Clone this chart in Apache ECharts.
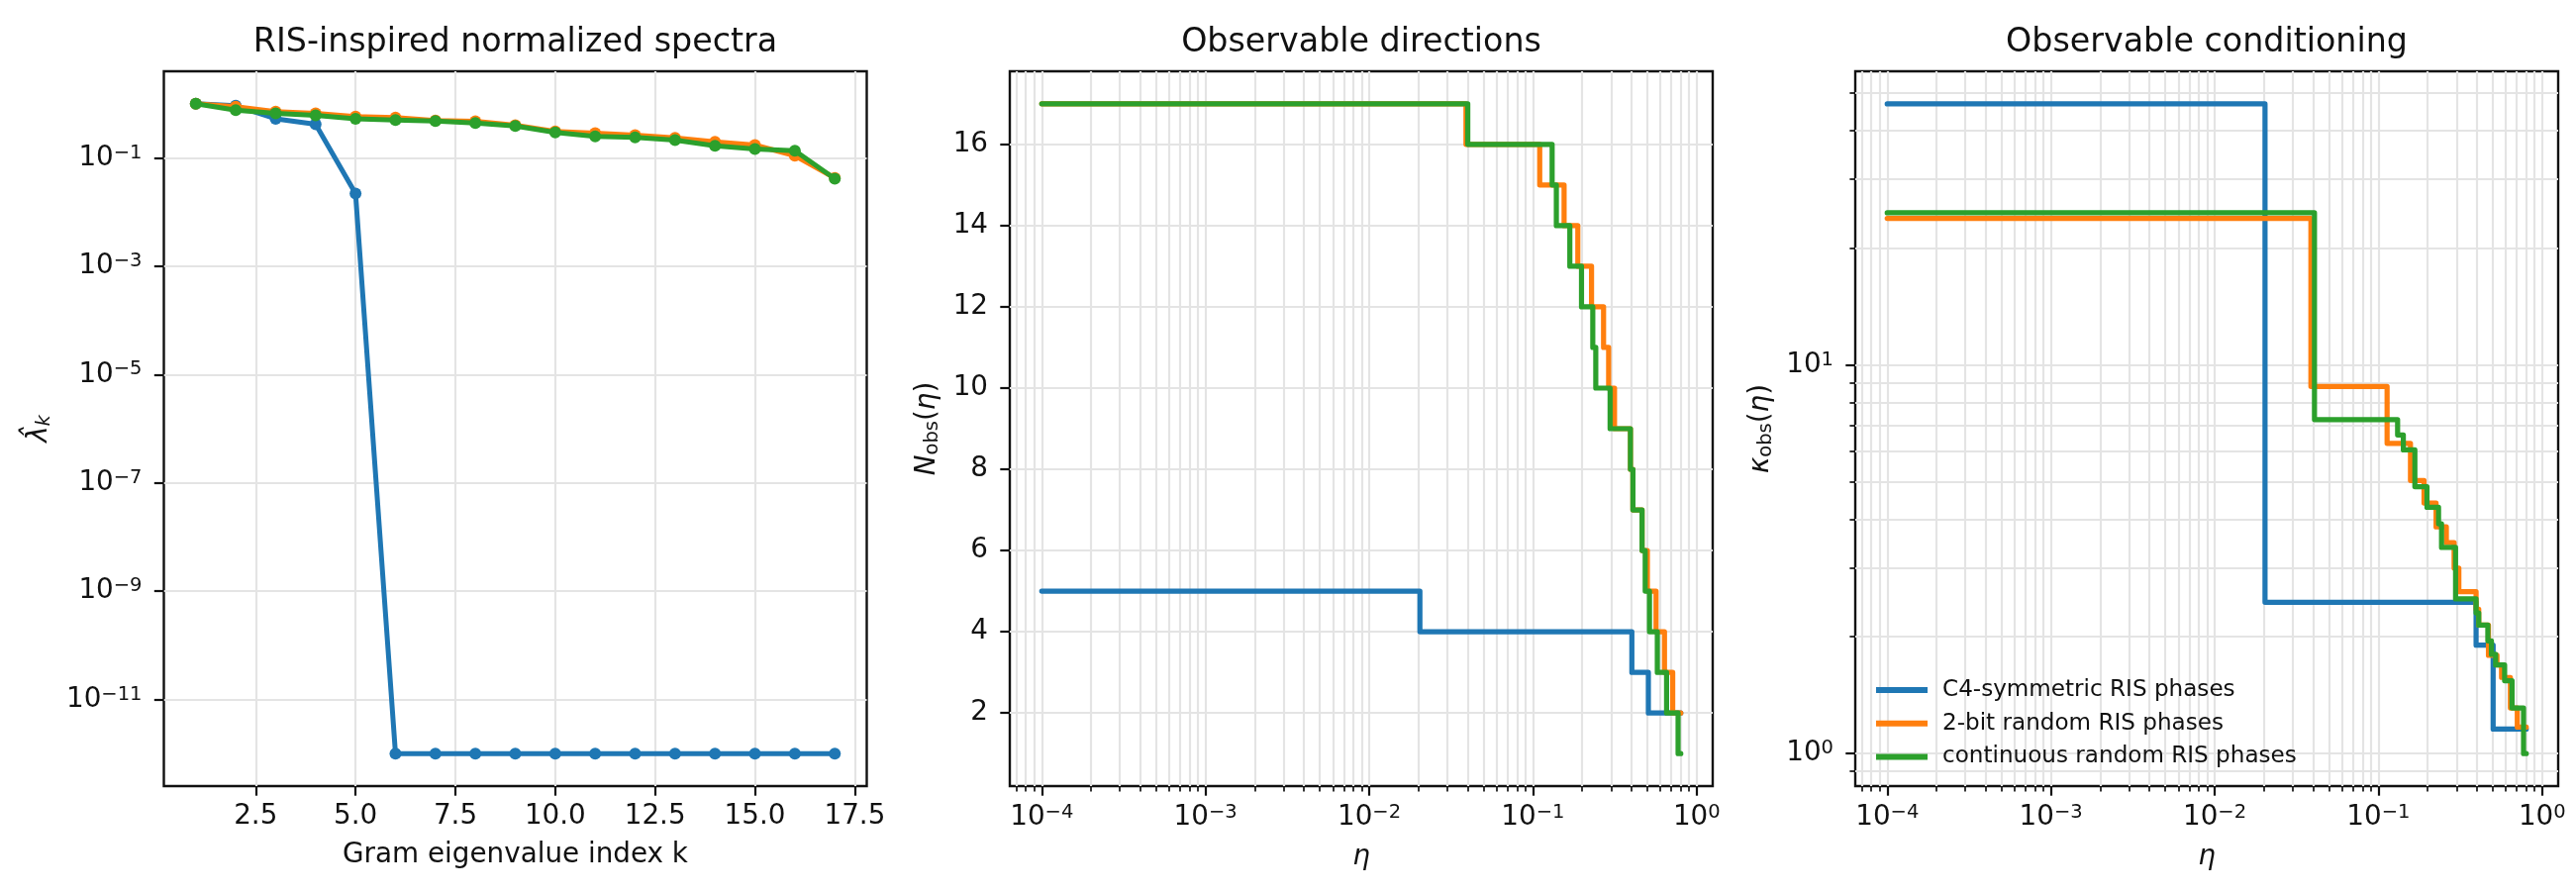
<!DOCTYPE html>
<html>
<head>
<meta charset="utf-8">
<script src="https://cdn.jsdelivr.net/npm/echarts@6/dist/echarts.min.js"></script>
<style>
html,body{margin:0;padding:0;background:#fff;}
#chart{width:2602px;height:903px;}
</style>
</head>
<body>
<div id="chart"></div>
<script>
// ---------------- data ----------------
const seriesNames = ['C4-symmetric RIS phases', '2-bit random RIS phases', 'continuous random RIS phases'];
const seriesColors = ['#1f77b4', '#ff7f0e', '#2ca02c'];

// Left panel: normalized Gram spectra
const kIndex = [1,2,3,4,5,6,7,8,9,10,11,12,13,14,15,16,17];
const specC4 = [1.0, 0.92, 0.53, 0.42, 0.022, 1e-12, 1e-12, 1e-12, 1e-12, 1e-12, 1e-12, 1e-12, 1e-12, 1e-12, 1e-12, 1e-12, 1e-12];
const spec2bit = [1.0, 0.88, 0.715, 0.665, 0.578, 0.555, 0.49, 0.475, 0.40, 0.31, 0.286, 0.263, 0.235, 0.199, 0.173, 0.110, 0.0426];
const specCont = [1.0, 0.764, 0.665, 0.61, 0.53, 0.50, 0.48, 0.44, 0.39, 0.295, 0.249, 0.239, 0.213, 0.168, 0.146, 0.136, 0.0413];

// Middle panel: N_obs(eta) step breakpoints (eta where value starts, value)
const etaNC4 = [1e-4, 0.0204, 0.402, 0.507, 0.8];
const nObsC4 = [5, 4, 3, 2, 2];
const etaN2bit = [1e-4, 0.039, 0.110, 0.155, 0.188, 0.228, 0.270, 0.290, 0.315, 0.394, 0.408, 0.464, 0.50, 0.565, 0.636, 0.714, 0.8];
const nObs2bit = [17, 16, 15, 14, 13, 12, 11, 10, 9, 8, 7, 6, 5, 4, 3, 2, 2];
const etaNCont = [1e-4, 0.040, 0.131, 0.139, 0.168, 0.198, 0.232, 0.242, 0.296, 0.394, 0.408, 0.464, 0.485, 0.515, 0.575, 0.655, 0.77, 0.8];
const nObsCont = [17, 16, 15, 14, 13, 12, 11, 10, 9, 8, 7, 6, 5, 4, 3, 2, 1, 1];

// Right panel: kappa_obs(eta) step breakpoints
const etaKC4 = [1e-4, 0.0203, 0.395, 0.502, 0.8];
const kapC4 = [46.9, 2.45, 1.90, 1.156, 1.156];
const etaK2bit = [1e-4, 0.0387, 0.113, 0.157, 0.19, 0.225, 0.26, 0.29, 0.31, 0.395, 0.41, 0.47, 0.53, 0.565, 0.64, 0.705, 0.8];
const kap2bit = [23.8, 8.8, 6.28, 5.04, 4.41, 3.83, 3.49, 3.0, 2.61, 2.35, 2.14, 1.79, 1.69, 1.57, 1.31, 1.17, 1.17];
const etaKCont = [1e-4, 0.0407, 0.131, 0.142, 0.167, 0.198, 0.233, 0.243, 0.296, 0.395, 0.41, 0.466, 0.49, 0.52, 0.59, 0.655, 0.77, 0.8];
const kapCont = [24.6, 7.23, 6.6, 6.04, 4.86, 4.30, 3.9, 3.39, 2.50, 2.3, 2.14, 1.95, 1.8, 1.69, 1.54, 1.31, 1.0, 1.0];

// Tick labels
const leftXTicks = [2.5, 5.0, 7.5, 10.0, 12.5, 15.0, 17.5];
const leftYTickExp = [-11, -9, -7, -5, -3, -1];
const midYTicks = [2, 4, 6, 8, 10, 12, 14, 16];
const etaTickExp = [-4, -3, -2, -1, 0];
const kapTickExp = [0, 1];

// ---------------- helpers ----------------
const FONT = 'DejaVu Sans';
const TXT = '#111';
const SPINE = '#111';
const GRIDC = '#e4e4e4';
const lg = Math.log10;

function minorLogs(lo, hi) {
  const out = [];
  for (let d = Math.floor(lo) - 1; d <= Math.ceil(hi); d++) {
    for (let m = 2; m <= 9; m++) {
      const v = d + lg(m);
      if (v >= lo && v <= hi) out.push(v);
    }
  }
  return out;
}
const supRich = {
  b: {fontSize: 27.8, lineHeight: 30, fontFamily: FONT, color: TXT},
  s: {fontSize: 19.5, lineHeight: 14, verticalAlign: 'top', fontFamily: FONT, color: TXT}
};
function powLabel(v) {
  const e = Math.round(v);
  const t = e < 0 ? '\u2212' + (-e) : String(e);
  return '{b|10}{s|' + t + '}';
}
const nameRich = {
  i: {fontSize: 27.8, lineHeight: 30, fontStyle: 'italic', fontFamily: FONT, color: TXT},
  r: {fontSize: 27.8, lineHeight: 30, fontFamily: FONT, color: TXT},
  sub: {fontSize: 19.5, lineHeight: 14, verticalAlign: 'bottom', fontFamily: FONT, color: TXT},
  subi: {fontSize: 19.5, lineHeight: 14, verticalAlign: 'bottom', fontStyle: 'italic', fontFamily: FONT, color: TXT}
};

const gridW = 710, gridH = 722, gridTop = 72;
const gridLefts = [165.5, 1020, 1874];

const etaMin = -4.195, etaMax = 0.098;
const leftYMin = -12.6, leftYMax = 0.6;
const kapMin = -0.0836, kapMax = 1.755;

function mainAxisCommon(extra) {
  return Object.assign({
    type: 'value',
    axisLine: {show: false, onZero: false},
    axisTick: {show: true, length: 9.7, lineStyle: {color: SPINE, width: 2.2}},
    splitLine: {show: true, lineStyle: {color: GRIDC, width: 2.2}},
    minorTick: {show: false},
    nameTextStyle: {fontFamily: FONT, fontSize: 27.8, color: TXT, lineHeight: 30}
  }, extra);
}
function minorAxis(extra) {
  return Object.assign({
    type: 'value',
    axisLine: {show: false, onZero: false},
    axisTick: {show: true, length: 5.6, lineStyle: {color: SPINE, width: 1.7}},
    axisLabel: {show: false},
    splitLine: {show: true, lineStyle: {color: GRIDC, width: 2.2}}
  }, extra);
}

function stepData(xs, ys, tx, ty) {
  return xs.map((x, i) => [tx(x), ty(ys[i])]);
}
const id = v => v;

const lineCommon = (i) => ({
  name: seriesNames[i],
  type: 'line',
  color: seriesColors[i],
  lineStyle: {width: 5.2, color: seriesColors[i], join: 'round', cap: 'round'},
  itemStyle: {color: seriesColors[i]},
  emphasis: {disabled: true},
  z: 2 + i
});

const option = {
  animation: false,
  backgroundColor: '#fff',
  textStyle: {fontFamily: FONT},
  graphic: [
    {type: 'text', x: gridLefts[0] + gridW / 2, y: 43, style: {text: 'RIS-inspired normalized spectra', font: '33.3px "DejaVu Sans"', fill: TXT, align: 'center', verticalAlign: 'middle'}},
    {type: 'text', x: gridLefts[1] + gridW / 2, y: 43, style: {text: 'Observable directions', font: '33.3px "DejaVu Sans"', fill: TXT, align: 'center', verticalAlign: 'middle'}},
    {type: 'text', x: gridLefts[2] + gridW / 2, y: 43, style: {text: 'Observable conditioning', font: '33.3px "DejaVu Sans"', fill: TXT, align: 'center', verticalAlign: 'middle'}}
  ],
  legend: {
    show: true,
    data: seriesNames,
    orient: 'vertical',
    left: 1890,
    top: 679,
    icon: 'rect',
    itemWidth: 52,
    itemHeight: 6,
    itemGap: 7.7,
    selectedMode: false,
    formatter: n => '{t|' + n + '}',
    textStyle: {fontFamily: FONT, fontSize: 23.1, color: TXT, lineHeight: 26,
      rich: {t: {fontFamily: FONT, fontSize: 23.1, color: TXT, lineHeight: 26, padding: [0, 0, 0, 10]}}}
  },
  grid: gridLefts.map(l => ({left: l, top: gridTop, width: gridW, height: gridH, show: true, borderColor: SPINE, borderWidth: 2.4, backgroundColor: 'transparent', containLabel: false})),
  xAxis: [
    mainAxisCommon({
      gridIndex: 0, position: 'bottom', min: 0.2, max: 17.8,
      axisTick: {show: true, length: 9.7, customValues: leftXTicks, lineStyle: {color: SPINE, width: 2.2}},
      axisLabel: {customValues: leftXTicks, formatter: v => v.toFixed(1), fontFamily: FONT, fontSize: 27.8, lineHeight: 30, color: TXT, margin: 16},
      name: 'Gram eigenvalue index k', nameLocation: 'middle', nameGap: 55
    }),
    mainAxisCommon({
      gridIndex: 1, position: 'bottom', min: etaMin, max: etaMax,
      axisTick: {show: true, length: 9.7, customValues: etaTickExp, lineStyle: {color: SPINE, width: 2.2}},
      axisLabel: {customValues: etaTickExp, formatter: powLabel, rich: supRich, margin: 17},
      name: '{i|\u03b7}', nameLocation: 'middle', nameGap: 57, nameTextStyle: {rich: nameRich}
    }),
    minorAxis({gridIndex: 1, position: 'bottom', min: etaMin, max: etaMax,
      axisTick: {show: true, length: 5.6, customValues: minorLogs(etaMin, etaMax), lineStyle: {color: SPINE, width: 1.7}}}),
    mainAxisCommon({
      gridIndex: 2, position: 'bottom', min: etaMin, max: etaMax,
      axisTick: {show: true, length: 9.7, customValues: etaTickExp, lineStyle: {color: SPINE, width: 2.2}},
      axisLabel: {customValues: etaTickExp, formatter: powLabel, rich: supRich, margin: 17},
      name: '{i|\u03b7}', nameLocation: 'middle', nameGap: 57, nameTextStyle: {rich: nameRich}
    }),
    minorAxis({gridIndex: 2, position: 'bottom', min: etaMin, max: etaMax,
      axisTick: {show: true, length: 5.6, customValues: minorLogs(etaMin, etaMax), lineStyle: {color: SPINE, width: 1.7}}})
  ],
  yAxis: [
    mainAxisCommon({
      gridIndex: 0, position: 'left', min: leftYMin, max: leftYMax,
      axisTick: {show: true, length: 9.7, customValues: leftYTickExp, lineStyle: {color: SPINE, width: 2.2}},
      axisLabel: {customValues: leftYTickExp, formatter: powLabel, rich: supRich, margin: 22},
      name: '{i|\u03bb\u0302}{subi|k}', nameLocation: 'middle', nameRotate: 90, nameGap: 111, nameTextStyle: {rich: nameRich}
    }),
    mainAxisCommon({
      gridIndex: 1, position: 'left', min: 0.2, max: 17.8,
      axisTick: {show: true, length: 9.7, customValues: midYTicks, lineStyle: {color: SPINE, width: 2.2}},
      axisLabel: {customValues: midYTicks, fontFamily: FONT, fontSize: 27.8, lineHeight: 30, color: TXT, margin: 22},
      name: '{i|N}{sub|obs}{r|(}{i|\u03b7}{r|)}', nameLocation: 'middle', nameRotate: 90, nameGap: 68, nameTextStyle: {rich: nameRich}
    }),
    mainAxisCommon({
      gridIndex: 2, position: 'left', min: kapMin, max: kapMax,
      axisTick: {show: true, length: 9.7, customValues: kapTickExp, lineStyle: {color: SPINE, width: 2.2}},
      axisLabel: {customValues: kapTickExp, formatter: powLabel, rich: supRich, margin: 22},
      name: '{i|\u03ba}{sub|obs}{r|(}{i|\u03b7}{r|)}', nameLocation: 'middle', nameRotate: 90, nameGap: 80, nameTextStyle: {rich: nameRich}
    }),
    minorAxis({gridIndex: 2, position: 'left', min: kapMin, max: kapMax,
      axisTick: {show: true, length: 5.6, customValues: minorLogs(kapMin, kapMax), lineStyle: {color: SPINE, width: 1.7}}})
  ],
  series: [
    // left
    Object.assign(lineCommon(0), {xAxisIndex: 0, yAxisIndex: 0, data: kIndex.map((k, i) => [k, lg(specC4[i])]), symbol: 'circle', symbolSize: 12, showAllSymbol: true, lineStyle: {width: 5, color: seriesColors[0], join: 'round'}}),
    Object.assign(lineCommon(1), {xAxisIndex: 0, yAxisIndex: 0, data: kIndex.map((k, i) => [k, lg(spec2bit[i])]), symbol: 'circle', symbolSize: 12, showAllSymbol: true, lineStyle: {width: 5, color: seriesColors[1], join: 'round'}}),
    Object.assign(lineCommon(2), {xAxisIndex: 0, yAxisIndex: 0, data: kIndex.map((k, i) => [k, lg(specCont[i])]), symbol: 'circle', symbolSize: 12, showAllSymbol: true, lineStyle: {width: 5, color: seriesColors[2], join: 'round'}}),
    // middle
    Object.assign(lineCommon(0), {xAxisIndex: 1, yAxisIndex: 1, step: 'end', showSymbol: false, symbol: 'none', data: stepData(etaNC4, nObsC4, lg, id)}),
    Object.assign(lineCommon(1), {xAxisIndex: 1, yAxisIndex: 1, step: 'end', showSymbol: false, symbol: 'none', data: stepData(etaN2bit, nObs2bit, lg, id)}),
    Object.assign(lineCommon(2), {xAxisIndex: 1, yAxisIndex: 1, step: 'end', showSymbol: false, symbol: 'none', data: stepData(etaNCont, nObsCont, lg, id)}),
    // right
    Object.assign(lineCommon(0), {xAxisIndex: 3, yAxisIndex: 2, step: 'end', showSymbol: false, symbol: 'none', data: stepData(etaKC4, kapC4, lg, lg)}),
    Object.assign(lineCommon(1), {xAxisIndex: 3, yAxisIndex: 2, step: 'end', showSymbol: false, symbol: 'none', data: stepData(etaK2bit, kap2bit, lg, lg)}),
    Object.assign(lineCommon(2), {xAxisIndex: 3, yAxisIndex: 2, step: 'end', showSymbol: false, symbol: 'none', data: stepData(etaKCont, kapCont, lg, lg)})
  ]
};

const chart = echarts.init(document.getElementById('chart'), null, {renderer: 'canvas'});
chart.setOption(option);
</script>
</body>
</html>
